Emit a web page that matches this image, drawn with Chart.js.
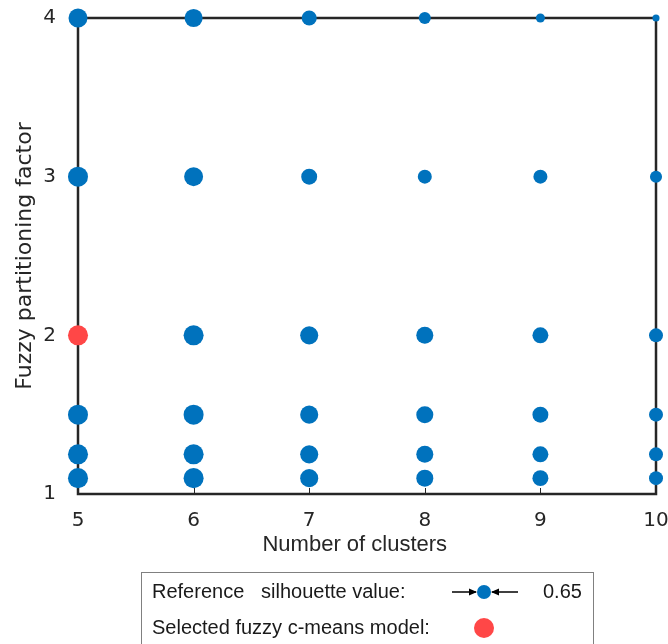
<!DOCTYPE html>
<html>
<head>
<meta charset="utf-8">
<script src="https://cdn.jsdelivr.net/npm/chart.js@4/dist/chart.umd.min.js"></script>
<style>
  html, body { margin: 0; padding: 0; background: #ffffff; }
  #wrap { width: 668px; height: 644px; position: relative; }
</style>
</head>
<body>
<div id="wrap"><canvas id="c" width="668" height="644"></canvas></div>
<script>
// ---- data ----
const clusters = [5, 6, 7, 8, 9, 10];
const factors = [1.1, 1.25, 1.5, 2, 3, 4];
// silhouette values per fuzzy partitioning factor (one per cluster count)
const silF1_1  = [0.93, 0.93, 0.84, 0.79, 0.74, 0.65];
const silF1_25 = [0.93, 0.93, 0.84, 0.79, 0.74, 0.65];
const silF1_5  = [0.93, 0.93, 0.84, 0.79, 0.74, 0.65];
const silF2    = [0.93, 0.93, 0.84, 0.79, 0.74, 0.65];
const silF3    = [0.93, 0.88, 0.74, 0.65, 0.65, 0.56];
const silF4    = [0.88, 0.84, 0.70, 0.56, 0.42, 0.33];
const selectedCluster = 5;
const selectedFactor = 2;
const refSilhouette = 0.65;
const xTickValues = [5, 6, 7, 8, 9, 10];
const yTickValues = [1, 2, 3, 4];
const xTitle = 'Number of clusters';
const yTitle = 'Fuzzy partitioning factor';
const legendLine1a = 'Reference';
const legendLine1b = 'silhouette value:';
const legendLine2 = 'Selected fuzzy c-means model:';

// ---- styling ----
const BLUE = '#0072BD';
const RED = '#FF4747';
const AXIS = '#262626';
const REF_R = 7; // pixel radius of the reference silhouette marker
const radiusFor = s => REF_R * s / refSilhouette;

const rows = [silF1_1, silF1_25, silF1_5, silF2, silF3, silF4];
const bluePts = [];
const redPts = [];
rows.forEach((row, i) => {
  row.forEach((s, j) => {
    const p = { x: clusters[j], y: factors[i], r: radiusFor(s) };
    if (clusters[j] === selectedCluster && factors[i] === selectedFactor) redPts.push(p);
    else bluePts.push(p);
  });
});

const framePlugin = {
  id: 'frame',
  beforeDatasetsDraw(chart) {
    const { ctx, chartArea: a, scales } = chart;
    ctx.save();
    ctx.strokeStyle = AXIS;
    ctx.lineWidth = 1;
    xTickValues.forEach(v => {
      const x = Math.round(scales.x.getPixelForValue(v)) + 0.5;
      ctx.beginPath(); ctx.moveTo(x, a.bottom); ctx.lineTo(x, a.bottom - 6); ctx.stroke();
    });
    yTickValues.forEach(v => {
      const y = Math.round(scales.y.getPixelForValue(v)) + 0.5;
      ctx.beginPath(); ctx.moveTo(a.left, y); ctx.lineTo(a.left + 6, y); ctx.stroke();
    });
    ctx.lineWidth = 2.5;
    ctx.strokeRect(a.left, a.top, a.right - a.left, a.bottom - a.top);
    ctx.restore();
  },
  afterDraw(chart) {
    const { ctx } = chart;
    ctx.save();
    // legend box
    ctx.strokeStyle = '#808080';
    ctx.lineWidth = 1;
    ctx.strokeRect(141.5, 572.5, 452, 90);
    ctx.fillStyle = '#1a1a1a';
    ctx.font = '20px "Liberation Sans", Arial, sans-serif';
    ctx.textBaseline = 'alphabetic';
    ctx.textAlign = 'left';
    ctx.fillText(legendLine1a, 152, 598);
    ctx.fillText(legendLine1b, 261, 598);
    ctx.fillText(legendLine2, 152, 634);
    ctx.fillText(refSilhouette.toFixed(2), 543, 598);
    // reference marker with arrows
    const cx = 484, cy = 592, r = radiusFor(refSilhouette);
    ctx.strokeStyle = '#000';
    ctx.fillStyle = '#000';
    ctx.lineWidth = 1.5;
    ctx.beginPath(); ctx.moveTo(452, cy); ctx.lineTo(cx - r - 1, cy); ctx.stroke();
    ctx.beginPath(); ctx.moveTo(cx - r, cy); ctx.lineTo(cx - r - 8, cy - 3.5); ctx.lineTo(cx - r - 8, cy + 3.5); ctx.closePath(); ctx.fill();
    ctx.beginPath(); ctx.moveTo(518, cy); ctx.lineTo(cx + r + 1, cy); ctx.stroke();
    ctx.beginPath(); ctx.moveTo(cx + r, cy); ctx.lineTo(cx + r + 8, cy - 3.5); ctx.lineTo(cx + r + 8, cy + 3.5); ctx.closePath(); ctx.fill();
    ctx.fillStyle = BLUE;
    ctx.beginPath(); ctx.arc(cx, cy, r, 0, Math.PI * 2); ctx.fill();
    // selected marker
    ctx.fillStyle = RED;
    ctx.beginPath(); ctx.arc(484, 628, radiusFor(0.93), 0, Math.PI * 2); ctx.fill();
    ctx.restore();
  }
};

new Chart(document.getElementById('c'), {
  type: 'bubble',
  data: {
    datasets: [
      { label: 'silhouette', data: bluePts, backgroundColor: BLUE, borderColor: BLUE, borderWidth: 0, clip: false },
      { label: 'selected', data: redPts, backgroundColor: RED, borderColor: RED, borderWidth: 0, clip: false }
    ]
  },
  options: {
    responsive: false,
    animation: false,
    devicePixelRatio: 1,
    layout: { padding: { left: 0, right: 12, top: 18, bottom: 80 } },
    plugins: { legend: { display: false }, tooltip: { enabled: false } },
    elements: { point: { hoverRadius: 0 } },
    scales: {
      x: {
        type: 'linear', min: 5, max: 10,
        afterBuildTicks: s => { s.ticks = xTickValues.map(v => ({ value: v })); },
        afterFit: s => { s.height = 70; s.paddingLeft = 0; s.paddingRight = 0; },
        grid: { display: false, drawTicks: false },
        border: { display: false },
        ticks: { padding: 15, color: AXIS, font: { family: '"DejaVu Sans"', size: 20 }, maxRotation: 0 },
        title: { display: true, text: xTitle + '\u00A0\u00A0\u00A0\u00A0', color: AXIS, padding: { top: 0, bottom: 6 },
                 font: { family: '"Liberation Sans", Arial, sans-serif', size: 22 } }
      },
      y: {
        type: 'linear', min: 1, max: 4,
        afterBuildTicks: s => { s.ticks = yTickValues.map(v => ({ value: v })); },
        afterFit: s => { s.width = 78; s.paddingTop = 0; s.paddingBottom = 0; },
        grid: { display: false, drawTicks: false },
        border: { display: false },
        ticks: { padding: 22, color: AXIS, font: { family: '"DejaVu Sans"', size: 20 } },
        title: { display: true, text: yTitle, color: AXIS, padding: { top: 12, bottom: 0 },
                 font: { family: '"DejaVu Sans"', size: 22 } }
      }
    }
  },
  plugins: [framePlugin]
});
</script>
</body>
</html>
